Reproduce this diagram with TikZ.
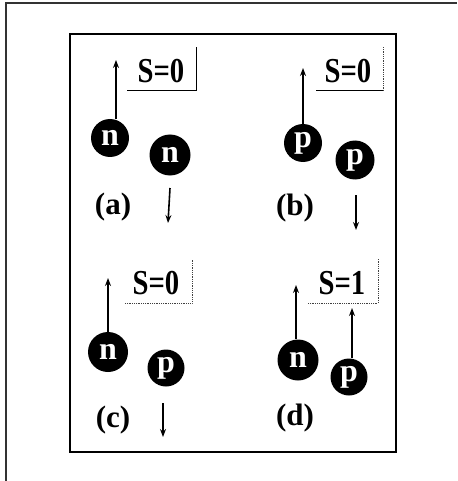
\documentclass[tikz,border=0pt]{standalone}
\usepackage{fontspec}
\setmainfont{Liberation Serif}
\usetikzlibrary{arrows.meta}
\begin{document}
\begin{tikzpicture}[x=1pt,y=-1pt,
  nuc/.style={circle,fill=black,minimum size=38pt,inner sep=0pt,text=white,font=\fontsize{32}{32}\selectfont\bfseries},
  spin/.style={line width=1.6pt,-{Stealth[length=8pt,width=6pt]}},
  lbl/.style={font=\fontsize{31}{31}\selectfont\bfseries,inner sep=0pt},
  sval/.style={font=\fontsize{35}{35}\selectfont\bfseries,inner sep=0pt,xscale=0.82,transform shape},
  brk/.style={line width=1pt},
  brkd/.style={line width=0.8pt,densely dotted,black!75}]
\useasboundingbox (0,0) rectangle (457,481);
% outer frame (left and top only)
\draw[line width=1.3pt,black!80] (6,481) -- (6,3) -- (457,3);
% inner frame
\draw[line width=1.4pt] (70,34) rectangle (396,452);

% ---- panel (a)
\node[nuc] (a1) at (110,138) {n};
\node[nuc,minimum size=41pt] (a2) at (170,155) {n};
\coordinate (a1t) at (116,60);
\draw[spin] (a1.north -| a1t) -- (a1t);
\coordinate (a2s) at (170,188);
\coordinate (a2e) at (168,223);
\draw[spin] (a2s) -- (a2e);
\node[sval] (sa) at (161,71) {S=0};
\coordinate (ab1) at (127,91);
\coordinate (ab2) at (196,91);
\coordinate (ab3) at (196,47);
\draw[brk] (ab1) -- (ab2) -- (ab3);
\node[lbl] (la) at (113,207) {(a)};

% ---- panel (b)
\node[nuc] (b1) at (303,143) {p};
\node[nuc,minimum size=39pt] (b2) at (355,160) {p};
\coordinate (b1t) at (303,68);
\draw[spin] (b1.north) -- (b1t);
\coordinate (b2s) at (356,195);
\coordinate (b2e) at (356,230);
\draw[spin] (b2s) -- (b2e);
\node[sval] (sb) at (348,71) {S=0};
\coordinate (bb1) at (316,91);
\coordinate (bb2) at (383,91);
\coordinate (bb3) at (383,47);
\draw[brk] (bb1) -- (bb2);
\draw[brkd] (bb2) -- (bb3);
\node[lbl] (lb) at (295,208) {(b)};

% ---- panel (c)
\node[nuc,minimum size=40pt] (c1) at (108,352) {n};
\node[nuc,minimum size=37pt] (c2) at (166,368) {p};
\coordinate (c1t) at (108,278);
\draw[spin] (c1.north) -- (c1t);
\coordinate (c2s) at (163,403);
\coordinate (c2e) at (163,437);
\draw[spin] (c2s) -- (c2e);
\node[sval] (sc) at (156,283) {S=0};
\coordinate (cb1) at (125,303);
\coordinate (cb2) at (192,303);
\coordinate (cb3) at (192,260);
\draw[brkd] (cb1) -- (cb2) -- (cb3);
\node[lbl] (lc) at (113,420) {(c)};

% ---- panel (d)
\node[nuc,minimum size=41pt] (d1) at (298,360) {n};
\node[nuc,minimum size=37pt] (d2) at (349,377) {p};
\coordinate (d1t) at (296,285);
\draw[spin] (d1.north -| d1t) -- (d1t);
\coordinate (d2t) at (352,308);
\draw[spin] (d2.north -| d2t) -- (d2t);
\node[sval] (sd) at (342,283) {S=1};
\coordinate (db1) at (308,303);
\coordinate (db2) at (378,303);
\coordinate (db3) at (378,258);
\draw[brkd] (db1) -- (db2) -- (db3);
\node[lbl] (ld) at (295,418) {(d)};
\end{tikzpicture}
\end{document}
